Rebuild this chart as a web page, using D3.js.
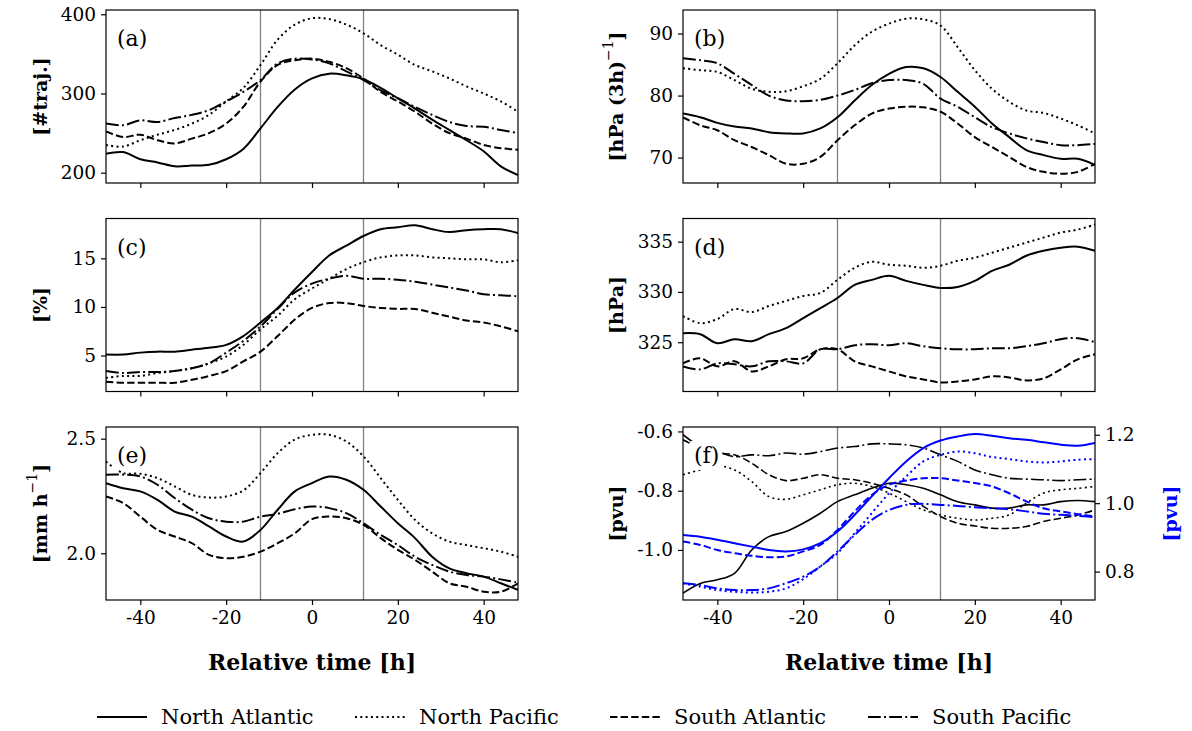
<!DOCTYPE html>
<html lang="en">
<head>
<meta charset="UTF-8">
<title>Trajectory composites</title>
<script src="https://d3js.org/d3.v7.min.js"></script>
<style>
  body { margin: 0; background: #fff; }
  svg text { font-family: "DejaVu Serif", serif; }
  .tick text { font-family: "DejaVu Serif", serif; font-size: 18.5px; fill: #000; }
  .tick line { stroke: #000; stroke-width: 1.2; }
</style>
</head>
<body>
<div id="chart"></div>
<script>
// relative time steps (h)
const times = d3.range(-48, 49, 4);
const regions = ["North Atlantic", "North Pacific", "South Atlantic", "South Pacific"];

// (a) number of trajectories
const trajNA = [224,226,217,213,208,209,210,217,230,256,283,305,319,325,323,318,307,294,281,267,254,241,227,208,197];
const trajNP = [235,233,241,248,254,262,273,290,307,336,368,387,395,394,387,376,361,349,336,328,319,309,300,290,277];
const trajSA = [252,245,248,241,237,243,250,262,283,315,336,342,344,340,332,319,302,290,277,262,250,243,235,231,229];
const trajSP = [262,260,266,264,269,273,279,290,302,317,338,344,343,338,328,317,304,294,283,273,264,259,258,254,250];

// (b) ascent rate [hPa (3h)^-1]
const ascNA = [77.1,76.5,75.6,75.0,74.7,74.1,73.9,73.9,74.7,76.5,79.2,81.7,83.5,84.6,84.4,83.0,80.6,78.2,75.5,73.3,71.2,70.4,69.8,69.8,68.8];
const ascNP = [84.4,84.1,83.8,82.5,81.1,80.6,80.7,81.5,82.7,85.2,88.1,90.3,91.6,92.4,92.3,91.3,87.8,84.1,81.1,79.0,77.6,77.2,76.3,75.2,73.9];
const ascSA = [76.5,75.2,74.4,72.8,71.7,70.4,69.0,69.0,70.1,72.8,75.2,77.1,77.9,78.2,78.1,77.4,75.5,73.3,71.7,70.1,68.5,67.7,67.4,67.7,69.0];
const ascSP = [86.0,85.7,85.2,83.5,81.7,80.0,79.2,79.1,79.3,80.0,80.9,82.0,82.5,82.5,81.9,79.5,78.2,76.5,74.9,73.9,73.1,72.5,72.0,72.0,72.2];

// (c) fraction [%]
const fracNA = [5.1,5.1,5.3,5.4,5.4,5.6,5.8,6.1,7.0,8.4,9.9,11.8,13.6,15.3,16.3,17.3,18.0,18.2,18.4,18.0,17.7,17.9,18.0,18.0,17.6];
const fracNP = [2.7,2.9,2.9,3.2,3.4,3.7,4.2,4.9,6.1,7.7,9.1,10.8,11.9,12.9,13.9,14.6,15.1,15.3,15.3,15.1,15.0,14.9,14.9,14.6,14.8];
const fracSA = [2.3,2.2,2.2,2.2,2.2,2.5,2.9,3.4,4.4,5.4,7.0,8.7,9.9,10.4,10.4,10.1,9.9,9.8,9.8,9.4,9.0,8.6,8.4,8.0,7.5];
const fracSP = [3.4,3.2,3.3,3.3,3.4,3.7,4.2,5.3,6.5,8.0,9.8,11.5,12.4,12.9,13.2,12.9,12.9,12.8,12.6,12.3,12.0,11.7,11.3,11.2,11.1];

// (d) pressure [hPa]
const presNA = [325.9,325.8,324.9,325.3,325.1,325.8,326.4,327.4,328.4,329.4,330.7,331.2,331.6,331.1,330.7,330.4,330.5,331.1,332.1,332.7,333.6,334.1,334.4,334.5,334.1];
const presNP = [327.6,326.9,327.3,328.3,328.0,328.6,329.1,329.6,329.9,331.2,332.4,333.0,332.7,332.6,332.4,332.6,333.1,333.4,333.9,334.4,334.9,335.4,335.9,336.2,336.7];
const presSA = [322.9,323.4,322.6,323.1,322.1,322.6,323.3,323.4,324.3,324.3,323.1,322.6,322.1,321.6,321.3,321.0,321.1,321.3,321.6,321.5,321.2,321.4,322.3,323.3,323.8];
const presSP = [322.6,322.3,322.9,322.8,322.6,323.1,323.1,322.9,324.3,324.3,324.7,324.8,324.7,324.9,324.6,324.4,324.3,324.3,324.4,324.4,324.6,324.9,325.3,325.4,325.0];

// (e) precipitation [mm h^-1]
const precNA = [2.306,2.284,2.270,2.233,2.182,2.160,2.117,2.073,2.051,2.102,2.190,2.270,2.306,2.335,2.321,2.277,2.204,2.131,2.066,1.985,1.934,1.913,1.898,1.869,1.840];
const precNP = [2.40,2.35,2.347,2.328,2.292,2.255,2.243,2.248,2.274,2.350,2.437,2.496,2.517,2.517,2.488,2.423,2.328,2.233,2.146,2.087,2.051,2.036,2.022,2.007,1.985];
const precSA = [2.248,2.219,2.160,2.102,2.073,2.044,1.993,1.978,1.985,2.007,2.044,2.087,2.149,2.160,2.153,2.124,2.066,2.015,1.971,1.920,1.869,1.854,1.832,1.832,1.869];
const precSP = [2.343,2.343,2.335,2.299,2.241,2.190,2.153,2.138,2.138,2.160,2.172,2.192,2.204,2.197,2.175,2.131,2.080,2.036,1.985,1.949,1.920,1.905,1.898,1.886,1.872];

// (f) PV [pvu], black on left axis, blue on right axis
const pvLeftNA = [-1.146,-1.113,-1.101,-1.079,-1.0,-0.955,-0.938,-0.910,-0.876,-0.837,-0.814,-0.792,-0.775,-0.780,-0.792,-0.814,-0.837,-0.848,-0.859,-0.859,-0.848,-0.848,-0.837,-0.833,-0.837];
const pvLeftNP = [-0.746,-0.730,-0.716,-0.730,-0.769,-0.820,-0.829,-0.814,-0.797,-0.780,-0.775,-0.786,-0.808,-0.837,-0.865,-0.882,-0.893,-0.899,-0.893,-0.882,-0.842,-0.808,-0.797,-0.792,-0.786];
const pvLeftSA = [-0.628,-0.656,-0.673,-0.679,-0.707,-0.746,-0.766,-0.758,-0.746,-0.758,-0.763,-0.775,-0.792,-0.814,-0.853,-0.887,-0.910,-0.919,-0.927,-0.927,-0.921,-0.904,-0.893,-0.882,-0.865];
const pvLeftSP = [-0.611,-0.651,-0.668,-0.685,-0.679,-0.682,-0.673,-0.677,-0.668,-0.656,-0.651,-0.642,-0.642,-0.645,-0.656,-0.679,-0.701,-0.730,-0.746,-0.758,-0.761,-0.763,-0.766,-0.763,-0.761];
const pvRightNA = [0.907,0.902,0.893,0.883,0.873,0.863,0.859,0.865,0.883,0.917,0.966,1.020,1.073,1.122,1.161,1.183,1.195,1.202,1.197,1.190,1.185,1.178,1.171,1.168,1.176];
const pvRightNP = [0.766,0.756,0.746,0.741,0.739,0.741,0.751,0.778,0.815,0.854,0.912,0.971,1.029,1.078,1.122,1.141,1.151,1.146,1.135,1.129,1.122,1.119,1.122,1.127,1.129];
const pvRightSA = [0.888,0.878,0.863,0.854,0.846,0.842,0.844,0.859,0.878,0.922,0.976,1.024,1.054,1.066,1.073,1.073,1.066,1.059,1.049,1.029,1.005,0.985,0.976,0.968,0.961];
const pvRightSP = [0.766,0.761,0.751,0.746,0.746,0.751,0.766,0.785,0.815,0.859,0.907,0.951,0.980,0.995,0.998,0.995,0.992,0.988,0.985,0.982,0.976,0.969,0.966,0.963,0.959];

const xTicks = [-40, -20, 0, 20, 40];
const markTimes = [-12, 12];

const width = 1192, height = 731;
const svg = d3.select("#chart").append("svg")
  .attr("width", width).attr("height", height);

// line styles per region
const dashes = ["none", "2,3.3", "7.4,3.2", "12.8,3.2,2,3.2"];

const colX = [[106, 518], [683, 1095]];
const rowY = [10, 218.5, 427];
const panelH = 173;

// label parts: [text, superscript?]
const panels = [
  { tag: "(a)", col: 0, row: 0, dom: [187, 405.4], ticks: [200, 300, 400], fmt: d => d, label: [["[#traj.]"]],
    series: [trajNA, trajNP, trajSA, trajSP] },
  { tag: "(b)", col: 1, row: 0, dom: [65.9, 93.8], ticks: [70, 80, 90], fmt: d => d, label: [["[hPa (3h)"], ["\u22121", true], ["]"]],
    series: [ascNA, ascNP, ascSA, ascSP] },
  { tag: "(c)", col: 0, row: 1, dom: [1.3, 19.1], ticks: [5, 10, 15], fmt: d => d, label: [["[%]"]],
    series: [fracNA, fracNP, fracSA, fracSP] },
  { tag: "(d)", col: 1, row: 1, dom: [320.1, 337.3], ticks: [325, 330, 335], fmt: d => d, label: [["[hPa]"]],
    series: [presNA, presNP, presSA, presSP] },
  { tag: "(e)", col: 0, row: 2, dom: [1.796, 2.551], ticks: [2.0, 2.5], fmt: d => d.toFixed(1), label: [["[mm h"], ["\u22121", true], ["]"]],
    series: [precNA, precNP, precSA, precSP] },
  { tag: "(f)", col: 1, row: 2, dom: [-1.169, -0.585], ticks: [-1.0, -0.8, -0.6], fmt: d => d.toFixed(1), label: [["[pvu]"]],
    series: [pvLeftNA, pvLeftNP, pvLeftSA, pvLeftSP], thin: true,
    right: { dom: [0.717, 1.2226], ticks: [0.8, 1.0, 1.2], series: [pvRightNA, pvRightNP, pvRightSA, pvRightSP] } }
];

panels.forEach(p => {
  const [x0, x1] = colX[p.col];
  const y0 = rowY[p.row], y1 = y0 + panelH;
  const x = d3.scaleLinear().domain([-48, 48]).range([x0, x1]);
  const y = d3.scaleLinear().domain(p.dom).range([y1, y0]);
  const g = svg.append("g");

  const clipId = "clip" + p.tag.replace(/\W/g, "");
  svg.append("clipPath").attr("id", clipId)
    .append("rect").attr("x", x0).attr("y", y0).attr("width", x1 - x0).attr("height", panelH);

  const plot = g.append("g").attr("clip-path", `url(#${clipId})`);

  // vertical marker lines
  plot.selectAll(".vl").data(markTimes).join("line")
    .attr("x1", d => x(d)).attr("x2", d => x(d))
    .attr("y1", y0).attr("y2", y1)
    .attr("stroke", "#808080").attr("stroke-width", 1.3);

  const line = yy => d3.line().x((d, i) => x(times[i])).y(d => yy(d)).curve(d3.curveCatmullRom.alpha(0.5));

  p.series.forEach((s, i) => {
    plot.append("path").datum(s)
      .attr("d", line(y))
      .attr("fill", "none").attr("stroke", "#000")
      .attr("stroke-width", p.thin ? 1.6 : 2)
      .attr("stroke-dasharray", dashes[i]);
  });

  let yr = null;
  if (p.right) {
    yr = d3.scaleLinear().domain(p.right.dom).range([y1, y0]);
    p.right.series.forEach((s, i) => {
      plot.append("path").datum(s)
        .attr("d", line(yr))
        .attr("fill", "none").attr("stroke", "#0000ff")
        .attr("stroke-width", 2)
        .attr("stroke-dasharray", dashes[i]);
    });
  }

  // panel tag with white box
  const tag = g.append("text").text(p.tag)
    .attr("x", x0 + 11).attr("y", y0 + 36)
    .attr("font-size", 22);
  const bb = tag.node().getBBox();
  g.insert("rect", "text").attr("x", bb.x - 3).attr("y", bb.y - 2)
    .attr("width", bb.width + 6).attr("height", bb.height + 4).attr("fill", "#fff");

  // frame
  g.append("rect").attr("x", x0).attr("y", y0).attr("width", x1 - x0).attr("height", panelH)
    .attr("fill", "none").attr("stroke", "#000").attr("stroke-width", 1.2);

  const xAxis = d3.axisBottom(x).tickValues(xTicks).tickSize(5).tickPadding(6)
    .tickFormat(p.row === 2 ? (d => String(d)) : "");
  g.append("g").attr("transform", `translate(0,${y1})`).call(xAxis)
    .call(a => a.select(".domain").remove());

  const yAxis = d3.axisLeft(y).tickValues(p.ticks).tickSize(5).tickPadding(5).tickFormat(p.fmt);
  g.append("g").attr("transform", `translate(${x0},0)`).call(yAxis)
    .call(a => a.select(".domain").remove());

  const lab = g.append("text")
    .attr("transform", `translate(${p.col === 0 ? 40 : 616},${(y0 + y1) / 2}) rotate(-90)`)
    .attr("text-anchor", "middle").attr("dominant-baseline", "central")
    .attr("font-weight", "bold").attr("font-size", 19);
  p.label.forEach(([t, sup]) => {
    const ts = lab.append("tspan").text(t);
    if (sup) ts.attr("font-size", 14).attr("font-weight", "normal").attr("dy", -8);
    else if (lab.selectAll("tspan").size() > 1) ts.attr("dy", 8);
  });

  if (yr) {
    const rAxis = d3.axisRight(yr).tickValues(p.right.ticks).tickSize(5).tickPadding(5).tickFormat(d => d.toFixed(1));
    g.append("g").attr("transform", `translate(${x1},0)`).call(rAxis)
      .call(a => a.select(".domain").remove());
    g.append("text").text("[pvu]")
      .attr("transform", `translate(1170,${(y0 + y1) / 2}) rotate(-90)`)
      .attr("text-anchor", "middle").attr("dominant-baseline", "central")
      .attr("font-weight", "bold").attr("font-size", 19).attr("fill", "#0000ff");
  }

  if (p.row === 2) {
    g.append("text").text("Relative time [h]")
      .attr("x", (x0 + x1) / 2).attr("y", 670)
      .attr("text-anchor", "middle").attr("font-weight", "bold").attr("font-size", 22);
  }
});

// legend
const legendX = [97, 355, 610, 868];
const legend = svg.append("g");
regions.forEach((r, i) => {
  legend.append("line")
    .attr("x1", legendX[i]).attr("x2", legendX[i] + 50)
    .attr("y1", 717).attr("y2", 717)
    .attr("stroke", "#000").attr("stroke-width", 2)
    .attr("stroke-dasharray", dashes[i]);
  legend.append("text").text(r)
    .attr("x", legendX[i] + 64).attr("y", 717)
    .attr("dominant-baseline", "central").attr("font-size", 21);
});
</script>
</body>
</html>
